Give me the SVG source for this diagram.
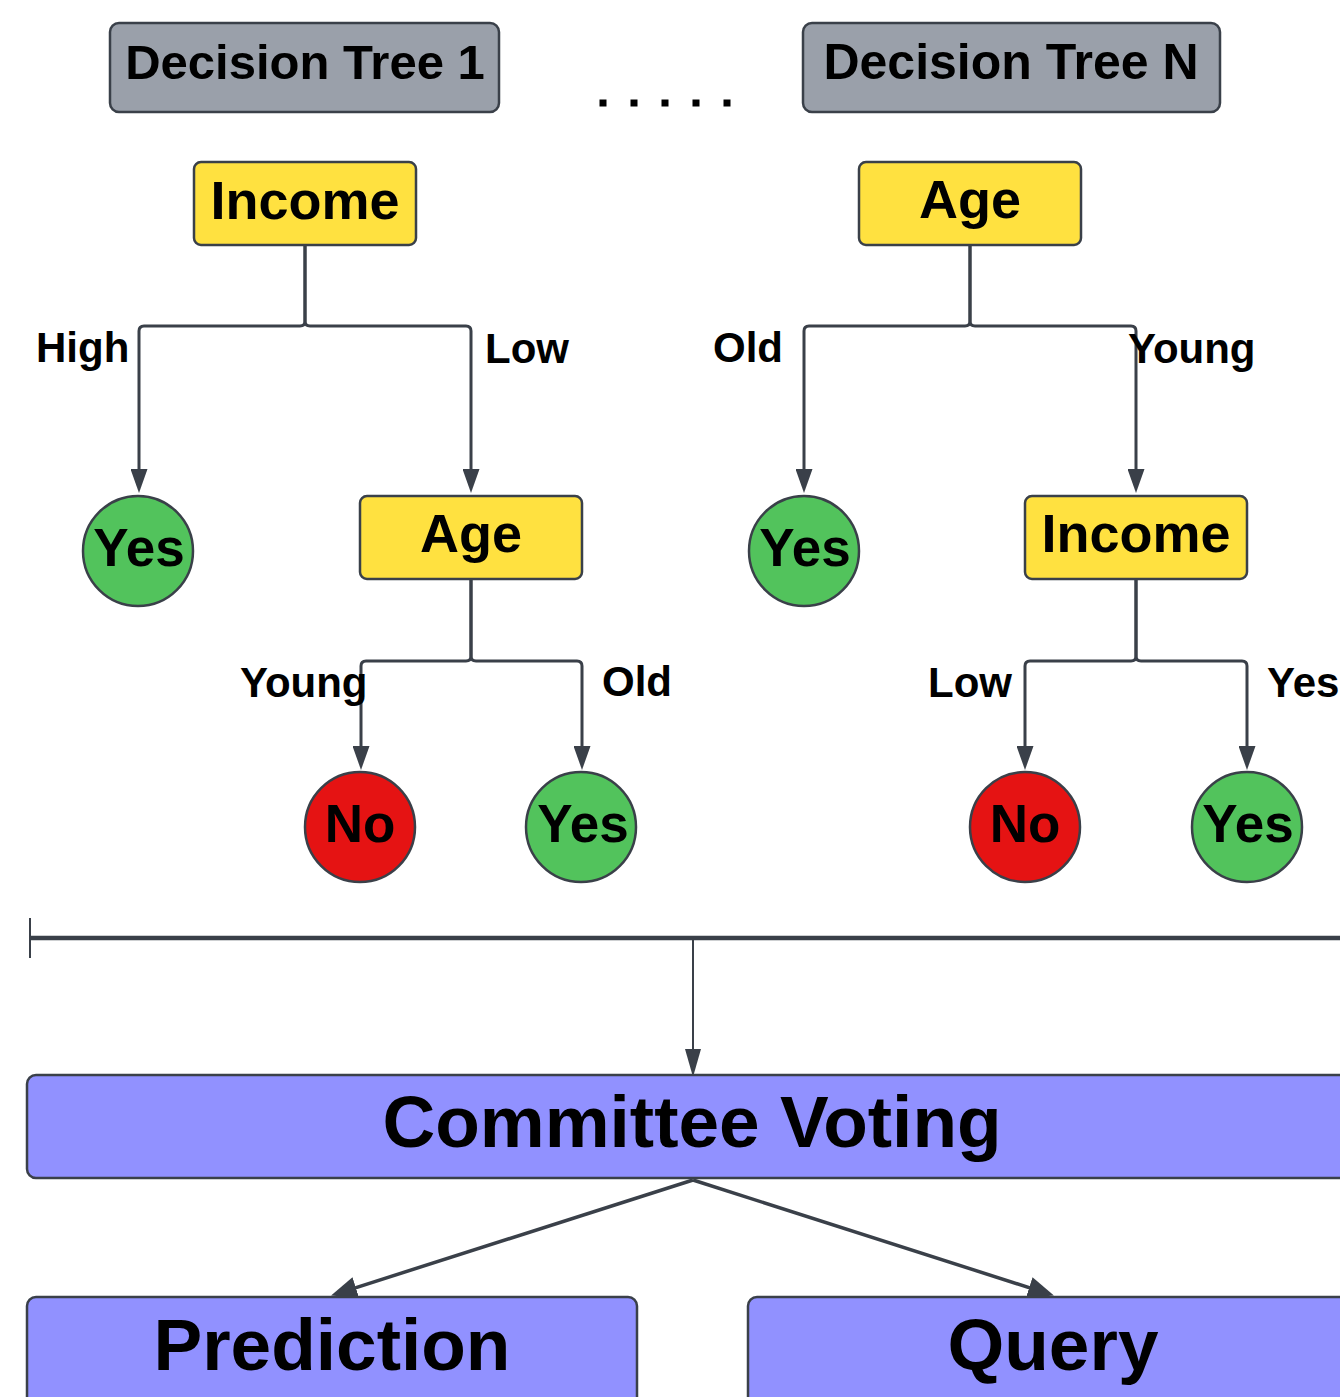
<svg xmlns="http://www.w3.org/2000/svg" width="1340" height="1397" viewBox="0 0 1340 1397">
<defs>
<style>
.t{font-family:"Liberation Sans",Arial,sans-serif;font-weight:bold;fill:#000}
.hdr{fill:#9aa0aa;stroke:#3a4049;stroke-width:2.5}
.dec{fill:#ffe140;stroke:#3a4049;stroke-width:2.5}
.yes{fill:#52c35c;stroke:#3a4049;stroke-width:2.5}
.no{fill:#e51313;stroke:#3a4049;stroke-width:2.5}
.vote{fill:#9191ff;stroke:#3a4049;stroke-width:2.5}
.c{fill:none;stroke:#3a4049;stroke-width:3}
.lbl{font-size:42px}
.box{font-size:54px;text-anchor:middle}
.leaf{font-size:53px;text-anchor:middle}
</style>
<marker id="ah" markerUnits="userSpaceOnUse" viewBox="0 0 24 17" refX="12" refY="8.5" markerWidth="24" markerHeight="17" orient="auto">
<path d="M0,0 L24,8.5 L0,17 z" fill="#3a4049"/>
</marker>
<marker id="ahN" markerUnits="userSpaceOnUse" viewBox="0 0 28 16" refX="12" refY="8" markerWidth="28" markerHeight="16" orient="auto">
<path d="M0,0 L28,8 L0,16 z" fill="#3a4049"/>
</marker>
<marker id="ahL" markerUnits="userSpaceOnUse" viewBox="0 0 26 22" refX="12" refY="11" markerWidth="26" markerHeight="22" orient="auto">
<path d="M0,0 L26,11 L0,22 z" fill="#3a4049"/>
</marker>
</defs>
<rect width="1340" height="1397" fill="#fff"/>

<g id="connectors">
<path class="c" d="M305,245 V321 Q305,326 300,326 H144 Q139,326 139,331 V481" marker-end="url(#ah)"/>
<path class="c" d="M305,245 V321 Q305,326 310,326 H466 Q471,326 471,331 V481" marker-end="url(#ah)"/>
<path class="c" d="M471,579 V656 Q471,661 466,661 H366 Q361,661 361,666 V758" marker-end="url(#ah)"/>
<path class="c" d="M471,579 V656 Q471,661 476,661 H577 Q582,661 582,666 V758" marker-end="url(#ah)"/>
<path class="c" d="M970,245 V321 Q970,326 965,326 H809 Q804,326 804,331 V481" marker-end="url(#ah)"/>
<path class="c" d="M970,245 V321 Q970,326 975,326 H1131 Q1136,326 1136,331 V481" marker-end="url(#ah)"/>
<path class="c" d="M1136,579 V656 Q1136,661 1131,661 H1030 Q1025,661 1025,666 V758" marker-end="url(#ah)"/>
<path class="c" d="M1136,579 V656 Q1136,661 1141,661 H1242 Q1247,661 1247,666 V758" marker-end="url(#ah)"/>
<line x1="30" y1="938" x2="1345" y2="938" stroke="#3a4049" stroke-width="4.5"/>
<line x1="30" y1="918" x2="30" y2="958" stroke="#3a4049" stroke-width="2"/>
<line x1="693" y1="940" x2="693" y2="1061" stroke="#3a4049" stroke-width="2" marker-end="url(#ahN)"/>
<line x1="693" y1="1180" x2="344.4" y2="1291.3" stroke="#3a4049" stroke-width="3.5" marker-end="url(#ahL)"/>
<line x1="693" y1="1180" x2="1040.6" y2="1291.3" stroke="#3a4049" stroke-width="3.5" marker-end="url(#ahL)"/>
</g>

<g id="dots" fill="#000">
<rect x="599.5" y="99.5" width="7" height="7"/>
<rect x="630.5" y="99.5" width="7" height="7"/>
<rect x="661.5" y="99.5" width="7" height="7"/>
<rect x="692.5" y="99.5" width="7" height="7"/>
<rect x="723.5" y="99.5" width="7" height="7"/>
</g>

<g id="tree1-header"><rect class="hdr" x="110" y="23" width="389" height="89" rx="9"/><text class="t" x="305" y="79" font-size="49" text-anchor="middle">Decision Tree 1</text></g>
<g id="treeN-header"><rect class="hdr" x="803" y="23" width="417" height="89" rx="9"/><text class="t" x="1011" y="79" font-size="50" text-anchor="middle">Decision Tree N</text></g>

<g id="t1-income"><rect class="dec" x="194" y="162" width="222" height="83" rx="7"/><text class="t box" x="305" y="219">Income</text></g>
<g id="t1-yes"><circle class="yes" cx="138" cy="551" r="55"/><text class="t leaf" x="139" y="566">Yes</text></g>
<g id="t1-age"><rect class="dec" x="360" y="496" width="222" height="83" rx="7"/><text class="t box" x="471" y="552">Age</text></g>
<g id="t1-no"><circle class="no" cx="360" cy="827" r="55"/><text class="t leaf" x="360" y="842">No</text></g>
<g id="t1-yes2"><circle class="yes" cx="581" cy="827" r="55"/><text class="t leaf" x="583" y="842">Yes</text></g>

<g id="tN-age"><rect class="dec" x="859" y="162" width="222" height="83" rx="7"/><text class="t box" x="970" y="218">Age</text></g>
<g id="tN-yes"><circle class="yes" cx="804" cy="551" r="55"/><text class="t leaf" x="805" y="566">Yes</text></g>
<g id="tN-income"><rect class="dec" x="1025" y="496" width="222" height="83" rx="7"/><text class="t box" x="1136" y="552">Income</text></g>
<g id="tN-no"><circle class="no" cx="1025" cy="827" r="55"/><text class="t leaf" x="1025" y="842">No</text></g>
<g id="tN-yes2"><circle class="yes" cx="1247" cy="827" r="55"/><text class="t leaf" x="1248" y="842">Yes</text></g>

<g id="labels">
<text class="t lbl" x="36" y="362">High</text>
<text class="t lbl" x="485" y="363">Low</text>
<text class="t lbl" x="240" y="697">Young</text>
<text class="t lbl" x="602" y="696">Old</text>
<text class="t lbl" x="713" y="362">Old</text>
<text class="t lbl" x="1128" y="363">Young</text>
<text class="t lbl" x="928" y="697">Low</text>
<text class="t lbl" x="1267" y="697">Yes</text>
</g>

<g id="committee"><rect class="vote" x="27" y="1075" width="1330" height="103" rx="9"/><text class="t" x="692" y="1147" font-size="73" text-anchor="middle">Committee Voting</text></g>
<g id="prediction"><rect class="vote" x="27" y="1297" width="610" height="115" rx="9"/><text class="t" x="332" y="1370" font-size="73" text-anchor="middle">Prediction</text></g>
<g id="query"><rect class="vote" x="748" y="1297" width="610" height="115" rx="9"/><text class="t" x="1053" y="1370" font-size="73" text-anchor="middle">Query</text></g>
</svg>
